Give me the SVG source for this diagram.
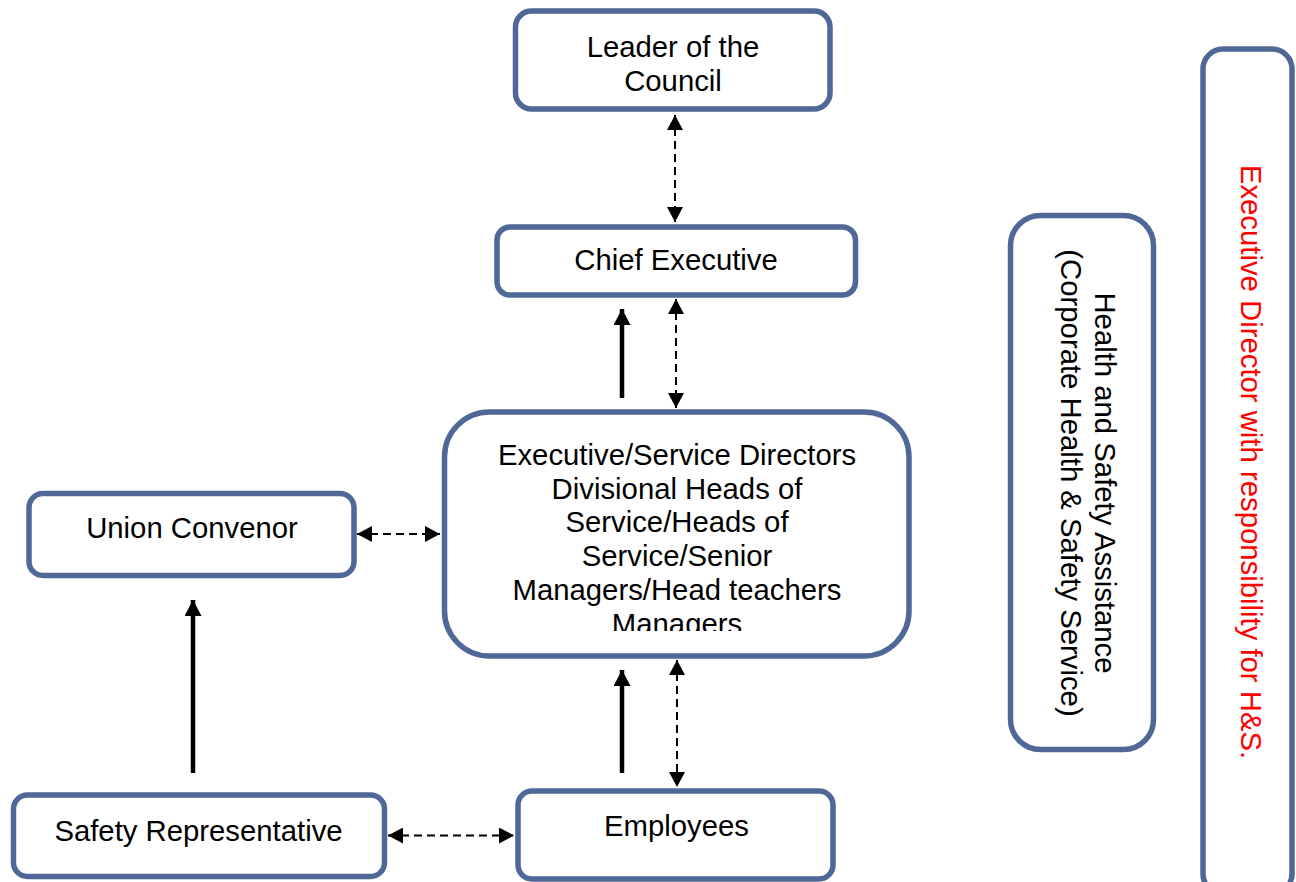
<svg xmlns="http://www.w3.org/2000/svg" width="1296" height="882" viewBox="0 0 1296 882">
<style>
.box{fill:#FFFFFF;stroke:#4F6897;stroke-width:5.5}
.t{font-family:"Liberation Sans",Arial,sans-serif;font-size:29.3px;fill:#000000;text-anchor:middle}
.red{fill:#FF0000}
.dash{stroke:#000000;stroke-width:2;stroke-dasharray:8 5;fill:none;marker-start:url(#tri);marker-end:url(#tri)}
.solid{stroke:#000000;stroke-width:4.5;fill:none;marker-end:url(#tri2)}
</style>
<defs>
<marker id="tri" markerUnits="userSpaceOnUse" markerWidth="16" markerHeight="16" refX="15" refY="8" orient="auto-start-reverse" viewBox="0 0 16 16">
<path d="M0,0 L15,8 L0,16 Z" fill="#000000"/>
</marker>
<marker id="tri2" markerUnits="userSpaceOnUse" markerWidth="17" markerHeight="17" refX="16" refY="8.5" orient="auto" viewBox="0 0 17 17">
<path d="M0,0 L16,8.5 L0,17 Z" fill="#000000"/>
</marker>
<clipPath id="mainClip"><rect x="444" y="412" width="465" height="219"/></clipPath>
</defs>
<rect width="1296" height="882" fill="#FFFFFF"/>

<g id="leader">
<rect class="box" x="515.5" y="11" width="314.5" height="98" rx="16"/>
<text class="t" x="673" y="57">Leader of the</text>
<text class="t" x="673" y="91">Council</text>
</g>

<g id="chief">
<rect class="box" x="497" y="227" width="358.5" height="68" rx="13"/>
<text class="t" x="676" y="270">Chief Executive</text>
</g>

<g id="directors">
<rect class="box" x="444.5" y="412" width="464.5" height="244" rx="45"/>
<g clip-path="url(#mainClip)">
<text class="t" x="677" y="465">Executive/Service Directors</text>
<text class="t" x="677" y="498.5">Divisional Heads of</text>
<text class="t" x="677" y="532">Service/Heads of</text>
<text class="t" x="677" y="566">Service/Senior</text>
<text class="t" x="677" y="600">Managers/Head teachers</text>
<text class="t" x="677" y="634">Managers</text>
</g>
</g>

<g id="union">
<rect class="box" x="29" y="493.5" width="325" height="82" rx="14"/>
<text class="t" x="192" y="538">Union Convenor</text>
</g>

<g id="safetyrep">
<rect class="box" x="13.5" y="795" width="371" height="81.5" rx="14"/>
<text class="t" x="198.5" y="841">Safety Representative</text>
</g>

<g id="employees">
<rect class="box" x="518" y="791" width="315" height="88" rx="14"/>
<text class="t" x="676.5" y="836">Employees</text>
</g>

<g id="hsassist">
<rect class="box" x="1010.5" y="215.5" width="143" height="534" rx="30"/>
<text class="t" transform="translate(1095,483) rotate(90)">Health and Safety Assistance</text>
<text class="t" transform="translate(1061,483) rotate(90)">(Corporate Health &amp; Safety Service)</text>
</g>

<g id="execdir">
<rect class="box" x="1203" y="49" width="89" height="845" rx="20"/>
<text class="t red" transform="translate(1241,462) rotate(90)">Executive Director with responsibility for H&amp;S.</text>
</g>

<g id="connectors">
<line class="dash" x1="675" y1="115" x2="675" y2="222"/>
<line class="dash" x1="676" y1="299" x2="676" y2="408"/>
<line class="solid" x1="622" y1="398" x2="622" y2="309"/>
<line class="dash" x1="677" y1="660" x2="677" y2="787"/>
<line class="solid" x1="622" y1="773" x2="622" y2="670"/>
<line class="dash" x1="357" y1="534" x2="440" y2="534"/>
<line class="solid" x1="193" y1="773" x2="193" y2="600"/>
<line class="dash" x1="388" y1="835.5" x2="514" y2="835.5"/>
</g>
</svg>
